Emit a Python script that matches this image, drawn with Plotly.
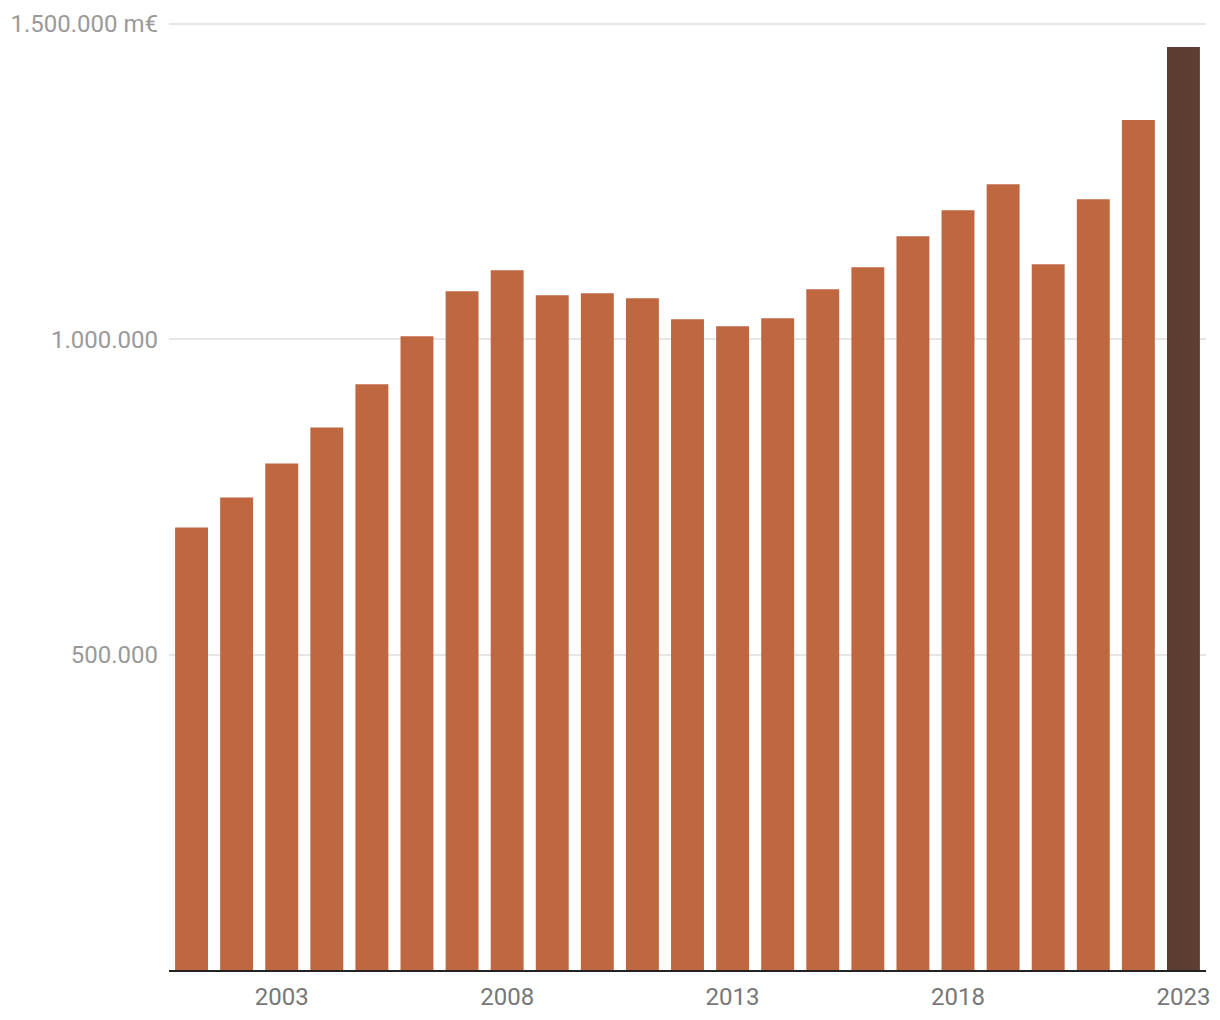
import plotly.graph_objects as go

years = list(range(2001, 2024))
values = [701600, 749200, 803200, 860300, 928600, 1004800, 1076200, 1109500,
          1069800, 1073000, 1065100, 1031700, 1020600, 1033300, 1079400, 1114300,
          1163500, 1204800, 1246000, 1119000, 1222200, 1347600, 1463500]
bar_color = "#BE6740"
highlight_color = "#5C3D31"
colors = [bar_color] * (len(years) - 1) + [highlight_color]

y_tickvals = [500000, 1000000, 1500000]
y_ticktext = ["500.000", "1.000.000", "1.500.000 m€"]
x_tickvals = [2003, 2008, 2013, 2018, 2023]

fig = go.Figure(go.Bar(x=years, y=values, marker=dict(color=colors, line=dict(width=0)),
                       hoverinfo="skip"))

fig.update_layout(
    width=1220, height=1020,
    margin=dict(l=169, r=14, t=18, b=50),
    plot_bgcolor="white", paper_bgcolor="white",
    bargap=0.27,
    showlegend=False,
    font=dict(family="Roboto", size=24),
)
fig.update_xaxes(
    range=[2000.5, 2023.5],
    tickvals=x_tickvals, ticktext=[str(v) for v in x_tickvals],
    tickfont=dict(color="#777777", size=24, family="Roboto"),
    showgrid=False, showline=True, linecolor="#222222", linewidth=2,
    ticks="", ticklabelstandoff=4, automargin=False,
)
fig.update_yaxes(
    range=[0, 1509500],
    tickvals=y_tickvals, ticktext=y_ticktext,
    tickfont=dict(color="#9a9a9a", size=24, family="Roboto"),
    showgrid=True, gridcolor="#e6e6e6", gridwidth=2,
    zeroline=False, showline=False, ticks="", ticklabelstandoff=10, automargin=False,
)

fig.write_html("out.html")
